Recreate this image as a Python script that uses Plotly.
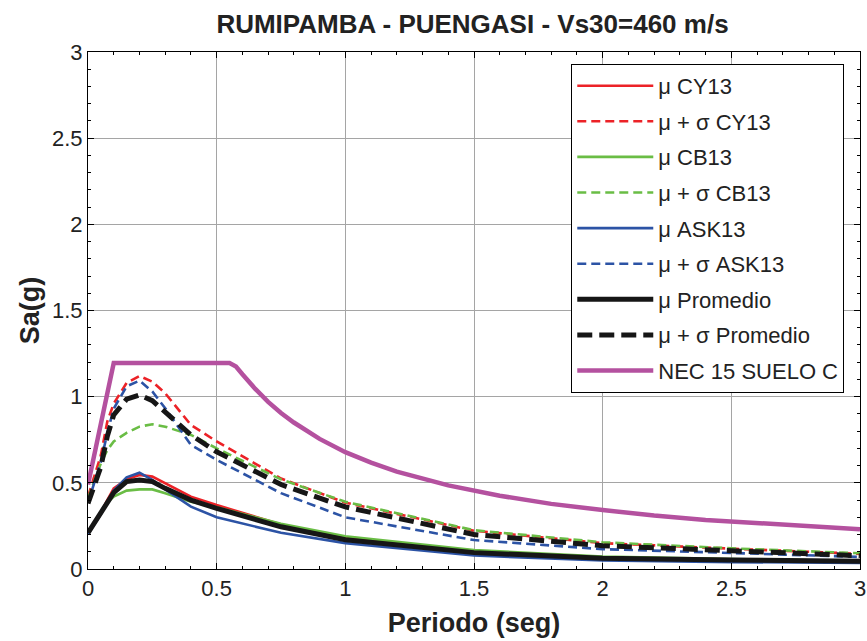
import plotly.graph_objects as go

# Periods (s) at which the ground-motion models were evaluated
periods = [0, 0.05, 0.075, 0.1, 0.15, 0.2, 0.25, 0.3, 0.4, 0.5, 0.75, 1.0, 1.5, 2.0, 2.5, 3.0]

# Mean and mean + sigma spectral accelerations (g)
cy13_mu = [0.215, 0.327, 0.40, 0.468, 0.52, 0.546, 0.536, 0.497, 0.42, 0.371, 0.258, 0.18, 0.105, 0.068, 0.055, 0.045]
cy13_sig = [0.42, 0.66, 0.855, 0.96, 1.08, 1.12, 1.087, 1.02, 0.836, 0.74, 0.525, 0.385, 0.222, 0.15, 0.118, 0.088]
cb13_mu = [0.21, 0.32, 0.385, 0.42, 0.455, 0.462, 0.462, 0.44, 0.39, 0.358, 0.262, 0.19, 0.11, 0.072, 0.058, 0.047]
cb13_sig = [0.41, 0.613, 0.69, 0.74, 0.79, 0.826, 0.84, 0.826, 0.778, 0.70, 0.52, 0.39, 0.225, 0.155, 0.12, 0.091]
ask13_mu = [0.203, 0.319, 0.39, 0.455, 0.532, 0.559, 0.517, 0.462, 0.362, 0.30, 0.21, 0.15, 0.078, 0.05, 0.04, 0.035]
ask13_sig = [0.385, 0.62, 0.79, 0.93, 1.06, 1.093, 1.03, 0.933, 0.72, 0.633, 0.44, 0.30, 0.168, 0.115, 0.093, 0.07]
prom_mu = [0.21, 0.322, 0.39, 0.443, 0.507, 0.517, 0.507, 0.468, 0.40, 0.352, 0.245, 0.17, 0.095, 0.063, 0.052, 0.045]
prom_sig = [0.38, 0.594, 0.77, 0.894, 0.985, 1.01, 0.977, 0.913, 0.778, 0.68, 0.49, 0.36, 0.20, 0.135, 0.104, 0.077]

# NEC 15 design spectrum, soil type C
nec_t = [0, 0.1, 0.55, 0.575, 0.6, 0.65, 0.7, 0.75, 0.8, 0.9, 1.0, 1.1, 1.2, 1.3, 1.4, 1.6, 1.8, 2.0, 2.2, 2.4, 2.6, 2.8, 3.0]
nec_sa = [0.49, 1.195, 1.195, 1.175, 1.13, 1.045, 0.97, 0.905, 0.85, 0.755, 0.678, 0.617, 0.565, 0.522, 0.485, 0.425, 0.378, 0.342, 0.31, 0.285, 0.265, 0.245, 0.23]

RED = "#ec2227"
GREEN = "#6abd45"
BLUE = "#2c53a5"
BLACK = "#161616"
MAGENTA = "#b4519f"

THIN_DASH = "9px,5px"
THICK_DASH = "15px,7px"

series = [
    ("μ CY13", periods, cy13_mu, RED, "solid", 2.6),
    ("μ + σ CY13", periods, cy13_sig, RED, THIN_DASH, 2.6),
    ("μ CB13", periods, cb13_mu, GREEN, "solid", 2.6),
    ("μ + σ CB13", periods, cb13_sig, GREEN, THIN_DASH, 2.6),
    ("μ ASK13", periods, ask13_mu, BLUE, "solid", 2.6),
    ("μ + σ ASK13", periods, ask13_sig, BLUE, THIN_DASH, 2.6),
    ("μ Promedio", periods, prom_mu, BLACK, "solid", 5),
    ("μ + σ Promedio", periods, prom_sig, BLACK, THICK_DASH, 5),
    ("NEC 15 SUELO C", nec_t, nec_sa, MAGENTA, "solid", 4.5),
]

fig = go.Figure()
for i, (name, x, y, color, dash, width) in enumerate(series):
    fig.add_trace(go.Scatter(
        x=x, y=y, mode="lines", name=name, legendgroup=f"g{i}",
        line=dict(color=color, dash=dash, width=width),
    ))

FONT = "Liberation Sans, Arial, sans-serif"
TXT = "#222"
ticks_major = [0, 0.5, 1, 1.5, 2, 2.5, 3]
tick_text = ["0", "0.5", "1", "1.5", "2", "2.5", "3"]

axis_common = dict(
    range=[0, 3], tickvals=ticks_major, ticktext=tick_text,
    showline=True, linecolor="black", linewidth=1, mirror="allticks",
    ticks="inside", ticklen=6, tickcolor="black",
    showgrid=True, gridcolor="#a5a5a5", gridwidth=1,
    zeroline=False, ticklabeloverflow="allow", automargin=False,
    tickfont=dict(family=FONT, size=22, color=TXT),
    minor=dict(ticks="inside", ticklen=3, tickcolor="black", showgrid=False,
               tick0=0, dtick=0.1),
)

fig.update_xaxes(
    title=dict(text="<b>Periodo (seg)</b>", font=dict(family=FONT, size=27, color=TXT), standoff=12),
    **axis_common,
)
fig.update_yaxes(
    title=dict(text="<b>Sa(g)</b>", font=dict(family=FONT, size=27, color=TXT), standoff=4),
    **axis_common,
)

fig.update_layout(
    width=867, height=641,
    margin=dict(l=88, r=7, t=52, b=72),
    paper_bgcolor="white", plot_bgcolor="white",
    title=dict(text="<b>RUMIPAMBA - PUENGASI - Vs30=460 m/s</b>",
               font=dict(family=FONT, size=26, color=TXT),
               x=0.545, xanchor="center", y=0.962, yanchor="middle"),
    legend=dict(
        x=0.626, xanchor="left", y=0.977, yanchor="top",
        bgcolor="white", bordercolor="black", borderwidth=1,
        font=dict(family=FONT, size=22, color=TXT),
        tracegroupgap=4, itemwidth=76,
    ),
    showlegend=True,
)

fig.write_html("out.html")
